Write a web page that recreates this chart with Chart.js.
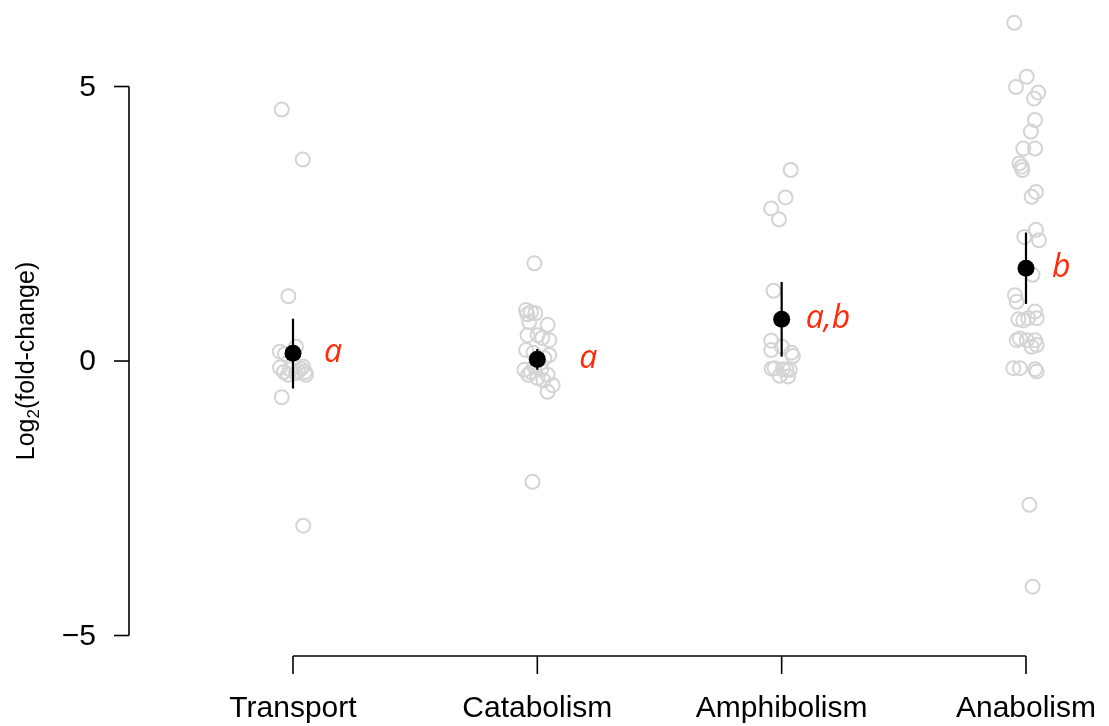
<!DOCTYPE html>
<html>
<head>
<meta charset="utf-8">
<script src="https://cdn.jsdelivr.net/npm/chart.js@4.4.0/dist/chart.umd.min.js"></script>
<style>
  html, body { margin: 0; padding: 0; background: #fff; }
  #wrap { width: 1109px; height: 726px; position: relative; }
</style>
</head>
<body>
<div id="wrap"><canvas id="chart"></canvas></div>
<script>
// categories along the x axis (placed at 1..4 on a linear scale)
const categories = ["Transport", "Catabolism", "Amphibolism", "Anabolism"];
const yTicks = [-5, 0, 5];

// individual genes: log2 fold-change and horizontal jitter (category units)
const transportY = [4.58, 3.67, 1.18, 0.13, 0.26, 0.17, -0.12, -0.2, -0.15, -0.22, -0.14, -0.2, -0.25, -0.25, -0.18, -0.1, -0.66, -3.0];
const transportJit = [-0.046, 0.040, -0.019, -0.033, 0.012, -0.054, -0.053, -0.037, -0.012, 0.012, 0.033, 0.049, 0.053, -0.020, 0.022, 0.041, -0.046, 0.042];

const catabolismY = [1.78, 0.93, 0.89, 0.85, 0.87, 0.71, 0.66, 0.47, 0.47, 0.38, 0.42, 0.2, 0.11, 0.15, 0.05, -0.16, -0.2, -0.31, -0.15, -0.25, -0.44, -0.56, -0.1, -0.25, -0.35, -2.2];
const catabolismJit = [-0.012, -0.046, -0.026, -0.041, -0.008, -0.033, 0.042, -0.040, 0.001, 0.049, 0.020, -0.046, 0.049, -0.016, 0.029, -0.053, -0.026, 0.001, 0.016, 0.042, 0.063, 0.042, -0.012, -0.037, 0.025, -0.020];

const amphibolismY = [3.48, 2.98, 2.78, 2.58, 1.28, 0.37, 0.2, 0.26, 0.15, 0.09, -0.13, -0.15, -0.16, -0.16, -0.28, -0.27, -0.14];
const amphibolismJit = [0.037, 0.016, -0.043, -0.011, -0.033, -0.043, -0.043, 0.001, 0.040, 0.046, -0.029, 0.005, 0.019, 0.033, 0.026, -0.008, -0.041];

const anabolismY = [6.16, 5.18, 4.99, 4.89, 4.78, 4.39, 4.18, 3.87, 3.87, 3.6, 3.54, 3.48, 3.08, 2.99, 2.39, 2.26, 2.2, 1.57, 1.2, 1.08, 0.9, 0.76, 0.74, 0.78, 0.78, 0.41, 0.38, 0.38, 0.38, 0.29, 0.26, -0.13, -0.13, -0.15, -0.19, -2.62, -4.11];
const anabolismJit = [-0.048, 0.003, -0.041, 0.050, 0.033, 0.037, 0.020, -0.011, 0.037, -0.027, -0.018, -0.015, 0.041, 0.023, 0.041, -0.007, 0.053, 0.027, -0.045, -0.038, 0.037, -0.031, -0.011, 0.009, 0.044, -0.025, -0.038, 0.003, 0.037, 0.044, 0.023, -0.052, -0.025, 0.037, 0.044, 0.014, 0.027];

// group means with confidence limits, and significance letters
const means = [0.14, 0.03, 0.76, 1.69];
const lower = [-0.50, -0.16, 0.08, 1.04];
const upper = [0.77, 0.22, 1.44, 2.34];
const letters = ["a", "a", "a,b", "b"];

const groupsY = [transportY, catabolismY, amphibolismY, anabolismY];
const groupsJit = [transportJit, catabolismJit, amphibolismJit, anabolismJit];

// pixel offsets of the letters to the right of each mean
const letterGap = [31, 42, 24, 26];

const genePoints = [];
groupsY.forEach((ys, g) => {
    ys.forEach((v, i) => genePoints.push({ x: g + 1 + groupsJit[g][i], y: v }));
});
const meanPoints = means.map((m, g) => ({ x: g + 1, y: m }));

const FONT = "'Liberation Sans', Arial, sans-serif";

// base-R style axes, error bars and letters
const rPlot = {
    id: "rPlot",
    afterDatasetsDraw(chart) {
        const { ctx, scales: { x, y } } = chart;
        ctx.save();

        // error bars
        ctx.strokeStyle = "#000";
        ctx.lineWidth = 2.2;
        means.forEach((m, g) => {
            const px = x.getPixelForValue(g + 1);
            ctx.beginPath();
            ctx.moveTo(px, y.getPixelForValue(lower[g]));
            ctx.lineTo(px, y.getPixelForValue(upper[g]));
            ctx.stroke();
        });

        // significance letters
        ctx.fillStyle = "#ff2a0a";
        ctx.font = "italic 32px 'Open Sans', sans-serif";
        ctx.textAlign = "left";
        ctx.textBaseline = "middle";
        letters.forEach((t, g) => {
            ctx.fillText(t, x.getPixelForValue(g + 1) + letterGap[g], y.getPixelForValue(means[g]));
        });

        // y axis
        const ax = chart.chartArea.left;
        ctx.strokeStyle = "#000";
        ctx.lineWidth = 1.6;
        ctx.beginPath();
        ctx.moveTo(ax, y.getPixelForValue(yTicks[0]));
        ctx.lineTo(ax, y.getPixelForValue(yTicks[yTicks.length - 1]));
        ctx.stroke();
        ctx.fillStyle = "#000";
        ctx.font = "30px " + FONT;
        ctx.textAlign = "right";
        ctx.textBaseline = "middle";
        yTicks.forEach(t => {
            const py = y.getPixelForValue(t);
            ctx.beginPath();
            ctx.moveTo(ax - 15, py);
            ctx.lineTo(ax, py);
            ctx.stroke();
            ctx.fillText(t < 0 ? "\u2212" + Math.abs(t) : String(t), ax - 33, py + 1);
        });

        // x axis
        const ay = 656;
        ctx.beginPath();
        ctx.moveTo(x.getPixelForValue(1), ay);
        ctx.lineTo(x.getPixelForValue(categories.length), ay);
        ctx.stroke();
        ctx.textAlign = "center";
        ctx.textBaseline = "alphabetic";
        categories.forEach((c, g) => {
            const px = x.getPixelForValue(g + 1);
            ctx.beginPath();
            ctx.moveTo(px, ay);
            ctx.lineTo(px, ay + 18);
            ctx.stroke();
            ctx.fillText(c, px, 717);
        });

        // y axis title with subscript
        ctx.translate(27, y.getPixelForValue(0));
        ctx.rotate(-Math.PI / 2);
        ctx.textAlign = "left";
        ctx.textBaseline = "middle";
        const big = "25px " + FONT, small = "17px " + FONT;
        ctx.font = big;
        const w1 = ctx.measureText("Log").width;
        const w3 = ctx.measureText("(fold-change)").width;
        ctx.font = small;
        const w2 = ctx.measureText("2").width;
        let sx = -(w1 + w2 + w3) / 2;
        ctx.font = big;
        ctx.fillText("Log", sx, 0);
        ctx.font = small;
        ctx.fillText("2", sx + w1, 7);
        ctx.font = big;
        ctx.fillText("(fold-change)", sx + w1 + w2, 0);

        ctx.restore();
    }
};

new Chart(document.getElementById("chart").getContext("2d"), {
    type: "scatter",
    data: {
        datasets: [
            {
                label: "genes",
                data: genePoints,
                pointRadius: 7,
                pointBorderWidth: 2,
                pointBackgroundColor: "rgba(0,0,0,0)",
                pointBorderColor: "#d4d4d4",
                clip: false,
                order: 2
            },
            {
                label: "mean",
                data: meanPoints,
                pointRadius: 8.5,
                pointBorderWidth: 0,
                pointBackgroundColor: "#000",
                pointBorderColor: "#000",
                clip: false,
                order: 1
            }
        ]
    },
    options: {
        responsive: true,
        maintainAspectRatio: false,
        animation: false,
        layout: { autoPadding: false, padding: { left: 129, right: 9, top: 0, bottom: 66 } },
        plugins: { legend: { display: false }, tooltip: { enabled: false } },
        scales: {
            x: { type: "linear", min: 0.3288, max: 4.3029, display: false },
            y: { type: "linear", min: -5.446, max: 6.576, display: false }
        }
    },
    plugins: [rPlot]
});
</script>
</body>
</html>
